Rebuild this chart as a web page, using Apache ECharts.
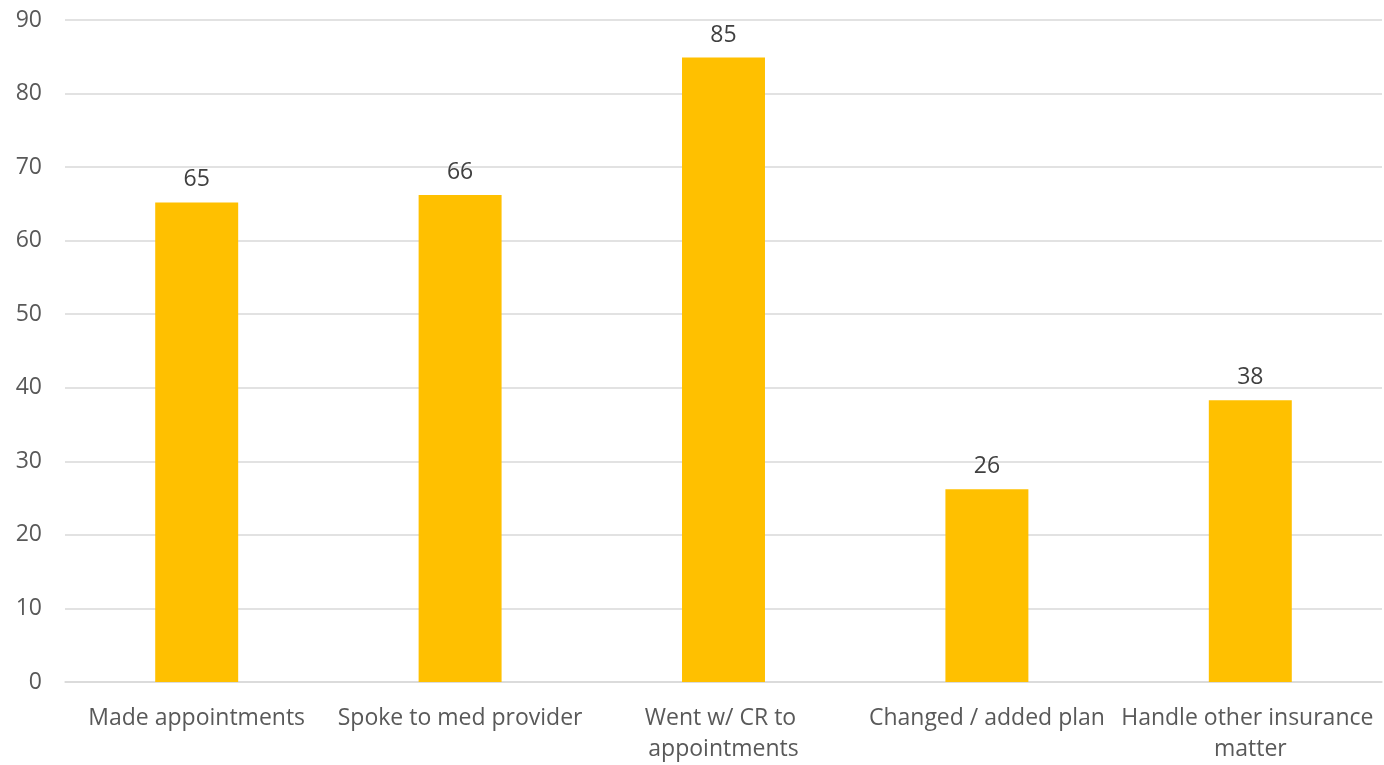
<!DOCTYPE html>
<html>
<head>
<meta charset="utf-8">
<script src="https://cdn.jsdelivr.net/npm/echarts@6/dist/echarts.min.js"></script>
<style>html,body{margin:0;padding:0;background:#fff}#c{width:1384px;height:765px}</style>
</head>
<body>
<div id="c"></div>
<script>
var categories = ["Made appointments", "Spoke to med provider", "Went w/ CR to appointments", "Changed / added plan", "Handle other insurance matter"];
var values = [65.2, 66.2, 84.9, 26.2, 38.3];
var yTicks = { min: 0, max: 90, interval: 10 };

var chart = echarts.init(document.getElementById('c'));
chart.setOption({
  animation: false,
  textStyle: { fontFamily: 'Open Sans' },
  grid: { left: 65, right: 2, top: 20, bottom: 82, containLabel: false },
  xAxis: {
    type: 'category',
    data: categories,
    axisLine: { lineStyle: { color: '#d9d9d9', width: 1.5 } },
    axisTick: { show: false },
    axisLabel: { color: '#595959', fontSize: 23, fontFamily: 'Open Sans', margin: 21, lineHeight: 31, width: 260, overflow: 'break', interval: 0 }
  },
  yAxis: {
    type: 'value',
    min: yTicks.min, max: yTicks.max, interval: yTicks.interval,
    axisLine: { show: false },
    axisTick: { show: false },
    splitLine: { lineStyle: { color: '#d9d9d9', width: 1.5 } },
    axisLabel: { color: '#595959', fontSize: 23, fontFamily: 'Open Sans', margin: 23 }
  },
  series: [{
    type: 'bar',
    data: values,
    barWidth: '31.5%',
    itemStyle: { color: '#ffc000' },
    label: { show: true, position: 'top', color: '#404040', fontSize: 23, fontFamily: 'Open Sans', distance: 11,
      formatter: function (p) { return Math.round(p.value); } }
  }]
});
</script>
</body>
</html>
